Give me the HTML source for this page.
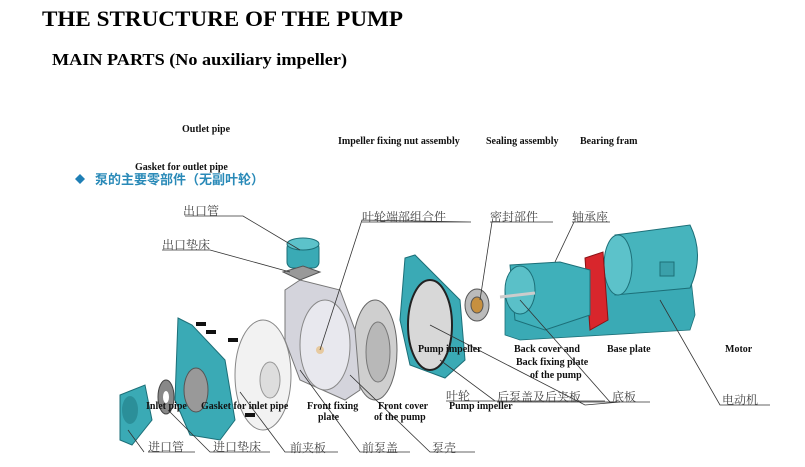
<!DOCTYPE html>
<html><head><meta charset="utf-8"><style>
html,body{margin:0;padding:0;background:#fff;}
svg{display:block;}
.t{font-family:"Liberation Serif",serif;font-weight:bold;fill:#000;}
.s{font-family:"Liberation Serif",serif;font-weight:bold;font-size:10px;fill:#111;}
.c{font-family:"Liberation Serif","Noto Serif CJK SC",serif;font-size:12px;fill:#444;}
.l{stroke:#333;stroke-width:0.8;fill:none;}
</style></head><body>
<svg width="805" height="467" viewBox="0 0 805 467" xmlns="http://www.w3.org/2000/svg">
<text class="t" x="42" y="26" font-size="22" textLength="361" lengthAdjust="spacingAndGlyphs">THE STRUCTURE OF THE PUMP</text>
<text class="t" x="52" y="65" font-size="17" textLength="295" lengthAdjust="spacingAndGlyphs">MAIN PARTS (No auxiliary impeller)</text>
<text class="s" x="182" y="132">Outlet pipe</text>
<text class="s" x="338" y="144">Impeller fixing nut assembly</text>
<text class="s" x="486" y="144">Sealing assembly</text>
<text class="s" x="580" y="144">Bearing fram</text>
<text class="s" x="135" y="170">Gasket for outlet pipe</text>
<path d="M75 179 L80 174 L85 179 L80 184Z" fill="#1f7fb5"/>
<text x="95" y="184" font-size="13" fill="#2a8ab8" font-family="'Noto Sans CJK SC',sans-serif" font-weight="bold">泵的主要零部件（无副叶轮）</text>

<!-- motor base -->
<path d="M505 290 L520 280 L690 270 L695 315 L690 330 L520 340 L505 335Z" fill="#3aaab5" stroke="#1c6f78" stroke-width="0.8"/>
<!-- motor -->
<path d="M615 235 L690 225 Q705 255 690 288 L615 295Z" fill="#46b4bd" stroke="#1c6f78"/>
<ellipse cx="618" cy="265" rx="14" ry="30" fill="#5cc2ca" stroke="#1c6f78"/>
<rect x="660" y="262" width="14" height="14" fill="#3aa0aa" stroke="#1c6f78"/>
<!-- coupling -->
<path d="M585 258 L603 252 L608 320 L590 330Z" fill="#d8262c" stroke="#8a1215"/>
<!-- bearing housing -->
<path d="M510 265 L560 262 L590 270 L590 315 L545 330 L515 320Z" fill="#3fb0ba" stroke="#1c6f78"/>
<ellipse cx="520" cy="290" rx="15" ry="24" fill="#5ac0c8" stroke="#1c6f78"/>
<line x1="500" y1="297" x2="535" y2="293" stroke="#ccc" stroke-width="3"/>
<!-- seal -->
<ellipse cx="477" cy="305" rx="12" ry="16" fill="#bbb" stroke="#555"/>
<ellipse cx="477" cy="305" rx="6" ry="8" fill="#c79040" stroke="#555"/>
<!-- back cover -->
<path d="M405 258 L415 255 L460 300 L465 360 L445 378 L410 365 L400 320Z" fill="#3aaab5" stroke="#1c6f78"/>
<ellipse cx="430" cy="325" rx="22" ry="45" fill="#d8d8d8" stroke="#222" stroke-width="2"/>
<!-- impeller -->
<ellipse cx="375" cy="350" rx="22" ry="50" fill="#cfcfcf" stroke="#666"/>
<ellipse cx="378" cy="352" rx="12" ry="30" fill="#b8b8b8" stroke="#777"/>
<!-- casing -->
<path d="M285 290 L300 280 L340 290 L355 330 L360 390 L345 400 L300 380 L285 340Z" fill="#d4d4dc" stroke="#777"/>
<ellipse cx="325" cy="345" rx="25" ry="45" fill="#e8e8ee" stroke="#888"/>
<circle cx="320" cy="350" r="4" fill="#e7caa0"/>
<!-- outlet pipe + gasket -->
<rect x="287" y="242" width="32" height="26" rx="6" fill="#3aaab5" stroke="#1c6f78"/>
<ellipse cx="303" cy="244" rx="16" ry="6" fill="#5cc2ca" stroke="#1c6f78"/>
<path d="M283 272 L303 266 L320 272 L300 280Z" fill="#999" stroke="#555"/>
<!-- front fixing plate -->
<ellipse cx="263" cy="375" rx="28" ry="55" fill="#f2f2f2" stroke="#888"/>
<ellipse cx="270" cy="380" rx="10" ry="18" fill="#ddd" stroke="#999"/>
<!-- front cover -->
<path d="M178 318 L192 325 L225 360 L235 420 L220 440 L190 435 L175 400Z" fill="#3aaab5" stroke="#1c6f78"/>
<ellipse cx="196" cy="390" rx="12" ry="22" fill="#999" stroke="#555"/>
<g fill="#111"><rect x="196" y="322" width="10" height="4"/><rect x="206" y="330" width="10" height="4"/><rect x="228" y="338" width="10" height="4"/><rect x="245" y="413" width="10" height="4"/></g>
<!-- gasket inlet -->
<ellipse cx="166" cy="397" rx="8" ry="17" fill="#888" stroke="#444"/>
<ellipse cx="166" cy="397" rx="3" ry="6" fill="#fff"/>
<!-- inlet pipe -->
<path d="M120 395 L145 385 L152 420 L132 445 L120 440Z" fill="#3aaab5" stroke="#1c6f78"/>
<ellipse cx="130" cy="410" rx="8" ry="14" fill="#2b8f99"/>

<!-- leader lines -->
<g class="l">
<polyline points="185,216 243,216 300,250"/>
<polyline points="162,250 210,250 290,272"/>
<polyline points="362,222 471,222 362,220 320,350"/>
<polyline points="490,222 553,222 492,222 480,300"/>
<polyline points="572,222 610,222 574,222 555,262"/>
<polyline points="144,452 144,452 128,430"/>
<polyline points="148,452 195,452"/>
<polyline points="213,452 270,452 210,452 168,410"/>
<polyline points="290,452 338,452 285,452 240,392"/>
<polyline points="362,452 410,452 360,452 300,370"/>
<polyline points="432,452 475,452 430,452 350,375"/>
<polyline points="446,401 605,401 495,401 440,360"/>
<polyline points="497,402 620,402 585,405 430,325"/>
<polyline points="612,402 650,402 610,402 520,300"/>
<polyline points="722,405 770,405 720,405 660,300"/>
</g>

<text class="c" x="183" y="215">出口管</text>
<text class="c" x="162" y="249">出口垫床</text>
<text class="c" x="362" y="221">叶轮端部组合件</text>
<text class="c" x="490" y="221">密封部件</text>
<text class="c" x="572" y="221">轴承座</text>
<text class="c" x="446" y="400">叶轮</text>
<text class="c" x="497" y="401">后泵盖及后夹板</text>
<text class="c" x="612" y="401">底板</text>
<text class="c" x="722" y="404">电动机</text>
<text class="c" x="148" y="451">进口管</text>
<text class="c" x="213" y="451">进口垫床</text>
<text class="c" x="290" y="452">前夹板</text>
<text class="c" x="362" y="452">前泵盖</text>
<text class="c" x="432" y="452">泵壳</text>

<text class="s" x="418" y="352">Pump impeller</text>
<text class="s" x="514" y="352">Back cover and</text>
<text class="s" x="516" y="365">Back fixing plate</text>
<text class="s" x="530" y="378">of the pump</text>
<text class="s" x="607" y="352">Base plate</text>
<text class="s" x="725" y="352">Motor</text>
<text class="s" x="146" y="409">Inlet pipe</text>
<text class="s" x="201" y="409">Gasket for inlet pipe</text>
<text class="s" x="307" y="409">Front fixing</text>
<text class="s" x="318" y="420">plate</text>
<text class="s" x="378" y="409">Front cover</text>
<text class="s" x="374" y="420">of the pump</text>
<text class="s" x="449" y="409">Pump impeller</text>
</svg>
</body></html>
